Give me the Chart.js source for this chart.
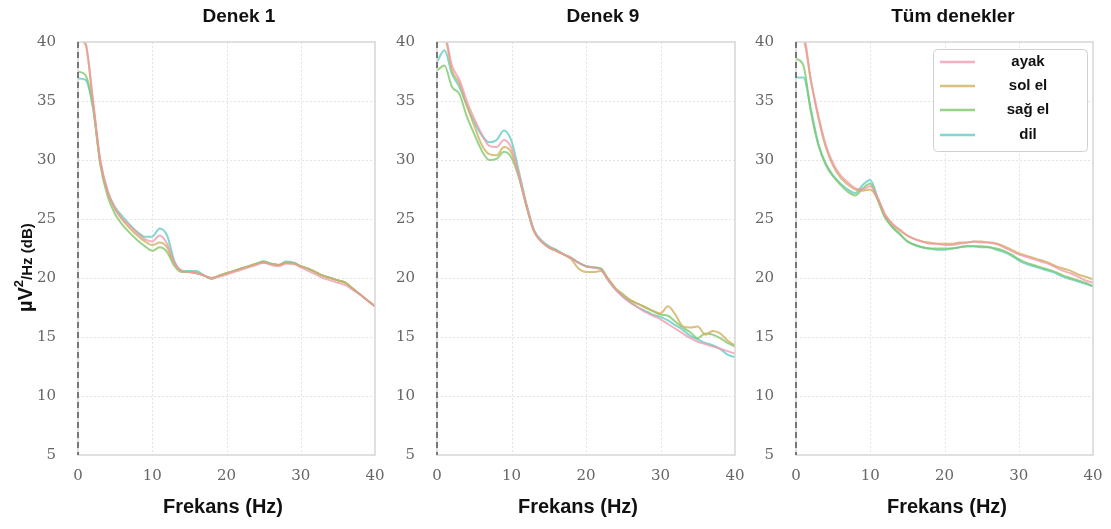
<!DOCTYPE html>
<html>
<head>
<meta charset="utf-8">
<script src="https://cdn.jsdelivr.net/npm/chart.js@4.4.1/dist/chart.umd.min.js"></script>
<style>
  body { margin: 0; background: #fff; }
  .panel { position: absolute; top: 0; }
</style>
</head>
<body>
<canvas id="c1" class="panel" width="400" height="529" style="left:0px"></canvas>
<canvas id="c2" class="panel" width="380" height="529" style="left:380px"></canvas>
<canvas id="c3" class="panel" width="371" height="529" style="left:740px"></canvas>
<script>
// frequency axis (Hz), one sample per Hz
const freqs = [0, 1, 2, 3, 4, 5, 6, 7, 8, 9, 10, 11, 12, 13, 14, 15, 16, 17, 18, 19, 20,
  21, 22, 23, 24, 25, 26, 27, 28, 29, 30, 31, 32, 33, 34, 35, 36, 37, 38, 39, 40]
const xTicks = [0, 10, 20, 30, 40]
const yTicks = [5, 10, 15, 20, 25, 30, 35, 40]
const seriesNames = ['ayak', 'sol el', 'sağ el', 'dil']
const seriesColors = ['rgba(240,150,168,0.75)', 'rgba(208,176,92,0.8)', 'rgba(128,200,108,0.8)', 'rgba(96,204,196,0.8)']

// Denek 1 (dB)
const denek1Ayak = [40.6, 40.0, 35.2, 30.0, 27.4, 25.9, 25.0, 24.4, 23.8, 23.3, 23.1, 23.6, 22.9, 21.3, 20.6,
  20.5, 20.4, 20.2, 20.0, 20.1, 20.3, 20.5, 20.7, 20.9, 21.1, 21.3, 21.1, 21.0, 21.2, 21.2,
  20.9, 20.6, 20.3, 20.0, 19.8, 19.6, 19.4, 19.0, 18.6, 18.1, 17.6]
const denek1SolEl = [40.2, 39.8, 35.0, 29.8, 27.2, 25.8, 24.9, 24.2, 23.6, 23.1, 22.8, 23.0, 22.6, 21.2, 20.6,
  20.5, 20.4, 20.2, 20.0, 20.2, 20.4, 20.6, 20.8, 21.0, 21.2, 21.3, 21.2, 21.1, 21.3, 21.2,
  21.0, 20.8, 20.5, 20.2, 20.0, 19.8, 19.6, 19.1, 18.6, 18.1, 17.6]
const denek1SagEl = [37.5, 37.2, 34.6, 29.6, 26.9, 25.4, 24.5, 23.8, 23.2, 22.7, 22.3, 22.6, 22.2, 21.0, 20.5,
  20.5, 20.4, 20.2, 19.9, 20.2, 20.4, 20.6, 20.8, 21.0, 21.2, 21.4, 21.2, 21.1, 21.3, 21.3,
  21.0, 20.8, 20.5, 20.2, 20.0, 19.8, 19.6, 19.1, 18.6, 18.1, 17.6]
const denek1Dil = [36.9, 36.8, 34.5, 29.9, 27.3, 26.0, 25.2, 24.5, 23.9, 23.5, 23.5, 24.2, 23.6, 21.4, 20.6,
  20.6, 20.6, 20.2, 20.0, 20.2, 20.4, 20.6, 20.8, 21.0, 21.2, 21.4, 21.2, 21.1, 21.4, 21.3,
  21.0, 20.8, 20.5, 20.2, 20.0, 19.8, 19.6, 19.1, 18.6, 18.1, 17.6]

// Denek 9 (dB)
const denek9Ayak = [40.5, 40.6, 38.0, 36.8, 35.0, 33.5, 32.2, 31.2, 31.1, 31.7, 31.0, 28.7, 26.2, 24.0, 23.1,
  22.6, 22.3, 22.0, 21.7, 21.3, 21.0, 20.9, 20.7, 19.8, 19.0, 18.4, 17.9, 17.5, 17.1, 16.8,
  16.5, 16.1, 15.7, 15.3, 14.9, 14.6, 14.4, 14.2, 14.0, 13.8, 13.6]
const denek9SolEl = [40.2, 40.4, 37.6, 36.5, 34.6, 32.9, 31.3, 30.5, 30.4, 31.1, 30.6, 28.6, 26.1, 24.0, 23.1,
  22.6, 22.3, 22.0, 21.6, 20.8, 20.5, 20.5, 20.6, 19.9, 19.1, 18.5, 18.1, 17.8, 17.5, 17.2,
  17.0, 17.6, 16.9, 15.9, 15.8, 15.9, 15.2, 15.5, 15.3, 14.7, 14.3]
const denek9SagEl = [37.6, 38.0, 36.2, 35.6, 33.7, 32.2, 30.8, 30.0, 30.1, 30.7, 30.2, 28.5, 26.1, 24.0, 23.1,
  22.6, 22.3, 22.0, 21.7, 21.3, 21.0, 20.9, 20.8, 19.9, 19.1, 18.6, 18.1, 17.8, 17.5, 17.2,
  16.9, 16.8, 16.3, 15.8, 15.4, 14.9, 15.3, 15.2, 14.9, 14.5, 14.2]
const denek9Dil = [38.3, 39.3, 37.3, 36.2, 34.6, 33.2, 32.1, 31.5, 31.7, 32.5, 31.6, 29.0, 26.3, 24.1, 23.2,
  22.7, 22.4, 22.0, 21.7, 21.3, 21.0, 20.9, 20.8, 19.8, 19.0, 18.4, 17.9, 17.5, 17.2, 16.9,
  16.7, 16.4, 16.0, 15.6, 15.1, 14.8, 14.5, 14.3, 14.0, 13.5, 13.3]

// Tüm denekler (dB)
const tumAyak = [40.3, 40.5, 36.7, 33.8, 31.3, 29.7, 28.7, 28.1, 27.6, 27.5, 27.8, 26.8, 25.4, 24.6, 24.1,
  23.6, 23.3, 23.1, 22.9, 22.9, 22.8, 22.8, 22.9, 23.0, 23.1, 23.0, 23.0, 22.9, 22.6, 22.3,
  22.0, 21.8, 21.6, 21.4, 21.2, 20.9, 20.6, 20.4, 20.1, 19.8, 19.6]
const tumSolEl = [40.5, 40.2, 36.8, 33.6, 31.1, 29.5, 28.5, 27.9, 27.5, 27.4, 27.5, 26.7, 25.3, 24.5, 24.0,
  23.6, 23.3, 23.1, 23.0, 22.9, 22.9, 22.9, 23.0, 23.0, 23.1, 23.1, 23.0, 22.9, 22.7, 22.4,
  22.1, 21.9, 21.7, 21.5, 21.3, 21.0, 20.8, 20.6, 20.3, 20.1, 19.9]
const tumSagEl = [38.6, 38.0, 34.1, 31.3, 29.6, 28.6, 27.9, 27.3, 27.0, 27.6, 28.0, 26.6, 25.1, 24.3, 23.7,
  23.1, 22.8, 22.6, 22.5, 22.5, 22.5, 22.5, 22.6, 22.7, 22.7, 22.7, 22.6, 22.5, 22.3, 22.0,
  21.6, 21.3, 21.1, 20.9, 20.7, 20.5, 20.2, 20.0, 19.8, 19.6, 19.3]
const tumDil = [37.0, 37.0, 34.3, 31.4, 29.7, 28.7, 28.0, 27.5, 27.2, 27.9, 28.3, 26.8, 25.2, 24.3, 23.7,
  23.1, 22.8, 22.6, 22.5, 22.4, 22.4, 22.5, 22.6, 22.7, 22.7, 22.6, 22.6, 22.4, 22.2, 21.9,
  21.5, 21.2, 21.0, 20.8, 20.6, 20.4, 20.1, 19.9, 19.7, 19.5, 19.3]

const SANS = '"Liberation Sans", Arial, sans-serif'

// grid, frame, dashed zero line, titles and legend
const panelPlugin = {
  id: 'panel',
  beforeDatasetsDraw(chart, args, opts) {
    const { ctx, chartArea: a, scales: { x, y } } = chart
    ctx.save()
    ctx.strokeStyle = '#e4e4e4'
    ctx.lineWidth = 1
    ctx.setLineDash([2, 2])
    xTicks.slice(1, -1).forEach(v => {
      const px = Math.round(x.getPixelForValue(v)) + 0.5
      ctx.beginPath(); ctx.moveTo(px, a.top); ctx.lineTo(px, a.bottom); ctx.stroke()
    })
    yTicks.slice(1, -1).forEach(v => {
      const py = Math.round(y.getPixelForValue(v)) + 0.5
      ctx.beginPath(); ctx.moveTo(a.left, py); ctx.lineTo(a.right, py); ctx.stroke()
    })
    ctx.restore()
  },
  afterDatasetsDraw(chart, args, opts) {
    const { ctx, chartArea: a, scales: { x } } = chart
    ctx.save()
    // frame
    ctx.strokeStyle = '#d6d6d6'
    ctx.lineWidth = 1.5
    ctx.strokeRect(a.left, a.top, a.right - a.left, a.bottom - a.top)
    // dashed line at 0 Hz
    const x0 = x.getPixelForValue(0)
    ctx.strokeStyle = '#555'
    ctx.setLineDash([6, 4])
    ctx.beginPath(); ctx.moveTo(x0, a.top); ctx.lineTo(x0, a.bottom); ctx.stroke()
    ctx.setLineDash([])

    // titles
    ctx.fillStyle = '#111'
    ctx.textAlign = 'center'
    ctx.textBaseline = 'middle'
    ctx.font = 'bold 19px ' + SANS
    ctx.fillText(opts.title, opts.titleX, 17)
    ctx.font = 'bold 20px ' + SANS
    ctx.fillText('Frekans (Hz)', opts.labelX, 507)

    if (opts.yLabel) {
      ctx.save()
      ctx.translate(32, 312)
      ctx.rotate(-Math.PI / 2)
      ctx.textAlign = 'left'
      ctx.textBaseline = 'alphabetic'
      ctx.font = 'bold 20px ' + SANS
      ctx.fillText('µV', 0, 0)
      let w = ctx.measureText('µV').width
      ctx.font = 'bold 13px ' + SANS
      ctx.fillText('2', w, -9)
      w += ctx.measureText('2').width
      ctx.font = 'bold 15px ' + SANS
      ctx.fillText('/Hz (dB)', w, 0)
      ctx.restore()
    }

    if (opts.legend) {
      const bx = 193, by = 49, bw = 154, bh = 102
      ctx.fillStyle = 'rgba(255,255,255,0.85)'
      ctx.strokeStyle = '#d0d0d0'
      ctx.lineWidth = 1
      ctx.beginPath()
      ctx.roundRect(bx + 0.5, by + 0.5, bw, bh, 4)
      ctx.fill(); ctx.stroke()
      const rows = [62, 86, 110, 135]
      chart.data.datasets.forEach((ds, i) => {
        ctx.strokeStyle = ds.borderColor
        ctx.lineWidth = 2.5
        ctx.beginPath(); ctx.moveTo(200, rows[i]); ctx.lineTo(235, rows[i]); ctx.stroke()
        ctx.fillStyle = '#111'
        ctx.font = 'bold 15px ' + SANS
        ctx.textAlign = 'center'
        ctx.fillText(ds.label, 288, rows[i])
      })
    }
    ctx.restore()
  }
}

function makePanel(id, seriesList, cfg) {
  const datasets = seriesList.map((values, i) => ({
    label: seriesNames[i],
    data: freqs.map((f, j) => ({ x: f, y: values[j] })),
    borderColor: seriesColors[i],
    borderWidth: 2,
    pointRadius: 0,
    cubicInterpolationMode: 'monotone',
    fill: false
  }))

  const tickFont = { family: '"DejaVu Serif", serif', size: 15 }

  return new Chart(document.getElementById(id), {
    type: 'line',
    data: { datasets: datasets },
    plugins: [panelPlugin],
    options: {
      responsive: false,
      animation: false,
      events: [],
      devicePixelRatio: 1,
      layout: { padding: { left: 0, right: cfg.padRight, top: 42, bottom: 0 } },
      plugins: {
        legend: { display: false },
        tooltip: { enabled: false },
        panel: cfg
      },
      scales: {
        x: {
          type: 'linear',
          min: 0,
          max: 40,
          afterBuildTicks: axis => { axis.ticks = xTicks.map(v => ({ value: v })) },
          afterFit: axis => {
            axis.height = 74
            // keep the tick labels from shrinking the plot area
            axis.paddingLeft = 0
            axis.paddingRight = 0
          },
          ticks: { font: tickFont, color: '#666', padding: 4 },
          grid: { display: false },
          border: { display: false }
        },
        y: {
          min: 5,
          max: 40,
          afterBuildTicks: axis => { axis.ticks = yTicks.map(v => ({ value: v })) },
          afterFit: axis => {
            axis.width = cfg.plotLeft
            axis.paddingTop = 0
            axis.paddingBottom = 0
          },
          ticks: { font: tickFont, color: '#666', padding: 14 },
          grid: { display: false },
          border: { display: false }
        }
      }
    }
  })
}

// canvases overlap a little so the last "40" tick label is not cut off
makePanel('c1', [denek1Ayak, denek1SolEl, denek1SagEl, denek1Dil],
  { title: 'Denek 1', titleX: 239, labelX: 223, plotLeft: 78, padRight: 25, yLabel: true })
makePanel('c2', [denek9Ayak, denek9SolEl, denek9SagEl, denek9Dil],
  { title: 'Denek 9', titleX: 223, labelX: 198, plotLeft: 57, padRight: 25 })
makePanel('c3', [tumAyak, tumSolEl, tumSagEl, tumDil],
  { title: 'Tüm denekler', titleX: 213, labelX: 207, plotLeft: 56, padRight: 18, legend: true })
</script>
</body>
</html>
